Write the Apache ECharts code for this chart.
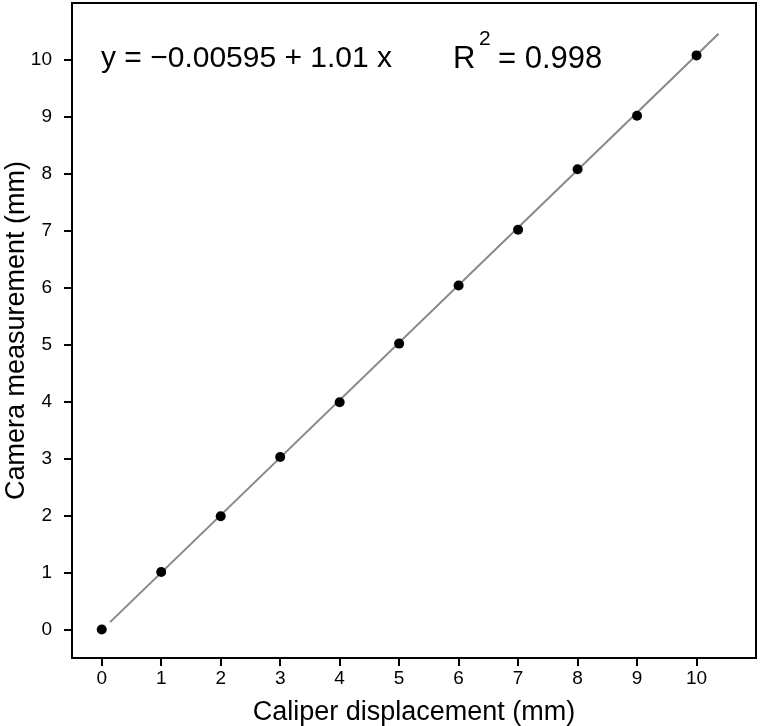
<!DOCTYPE html>
<html>
<head>
<meta charset="utf-8">
<script src="https://cdn.jsdelivr.net/npm/echarts@6/dist/echarts.min.js"></script>
<style>html,body{margin:0;padding:0;background:#fff}#c{width:760px;height:726px}</style>
</head>
<body>
<div id="c"></div>
<script>
var caliper = [0, 1, 2, 3, 4, 5, 6, 7, 8, 9, 10];
var camera = [0.00, 1.01, 1.99, 3.03, 3.99, 5.02, 6.04, 7.02, 8.08, 9.02, 10.08];
var fitLineX = [0.14, 10.37];
var fitLineY = [0.13, 10.46];
var tickValues = [0, 1, 2, 3, 4, 5, 6, 7, 8, 9, 10];
var eqText = 'y = \u22120.00595 + 1.01 x';
var r2Text = '= 0.998';

var FONT = '"Liberation Sans", Arial, Helvetica, sans-serif';
var chart = echarts.init(document.getElementById('c'), null, {renderer: 'canvas'});

function axisCommon(name, gap) {
  return {
    type: 'value', min: -0.5, max: 11,
    name: name, nameLocation: 'middle', nameGap: gap, nameMoveOverlap: false,
    nameTextStyle: {fontFamily: FONT, fontSize: 27, color: '#000'},
    axisLine: {show: true, onZero: false, lineStyle: {color: '#000', width: 2}},
    axisTick: {show: true, length: 8, lineStyle: {color: '#000', width: 2}, customValues: tickValues},
    axisLabel: {fontFamily: FONT, fontSize: 19, color: '#000', customValues: tickValues},
    splitLine: {show: false}
  };
}
var xA = axisCommon('Caliper displacement (mm)', 41);
xA.axisLabel.margin = 11;
var yA = axisCommon('Camera measurement (mm)', 42);
yA.axisLabel.margin = 20;

chart.setOption({
  animation: false,
  backgroundColor: '#fff',
  grid: {left: 72, right: 4, top: 3, bottom: 68, show: true, borderColor: '#000', borderWidth: 2,
         backgroundColor: 'transparent', containLabel: false, outerBoundsMode: 'none'},
  xAxis: xA,
  yAxis: yA,
  series: [
    {
      type: 'line', data: fitLineX.map(function (x, i) { return [x, fitLineY[i]]; }),
      showSymbol: false, symbol: 'none', lineStyle: {color: '#888888', width: 2}, z: 2
    },
    {
      type: 'scatter', data: caliper.map(function (x, i) { return [x, camera[i]]; }),
      symbol: 'circle', symbolSize: 10, itemStyle: {color: '#000', opacity: 1}, z: 3
    }
  ],
  graphic: [
    {type: 'text', left: 101, top: 44, style: {text: eqText, font: '30px ' + FONT, fill: '#000'}},
    {type: 'text', left: 453, top: 44, style: {text: 'R', font: '31px ' + FONT, fill: '#000'}},
    {type: 'text', left: 479, top: 29, style: {text: '2', font: '21px ' + FONT, fill: '#000'}},
    {type: 'text', left: 498, top: 44, style: {text: r2Text, font: '31px ' + FONT, fill: '#000'}}
  ]
});
</script>
</body>
</html>
